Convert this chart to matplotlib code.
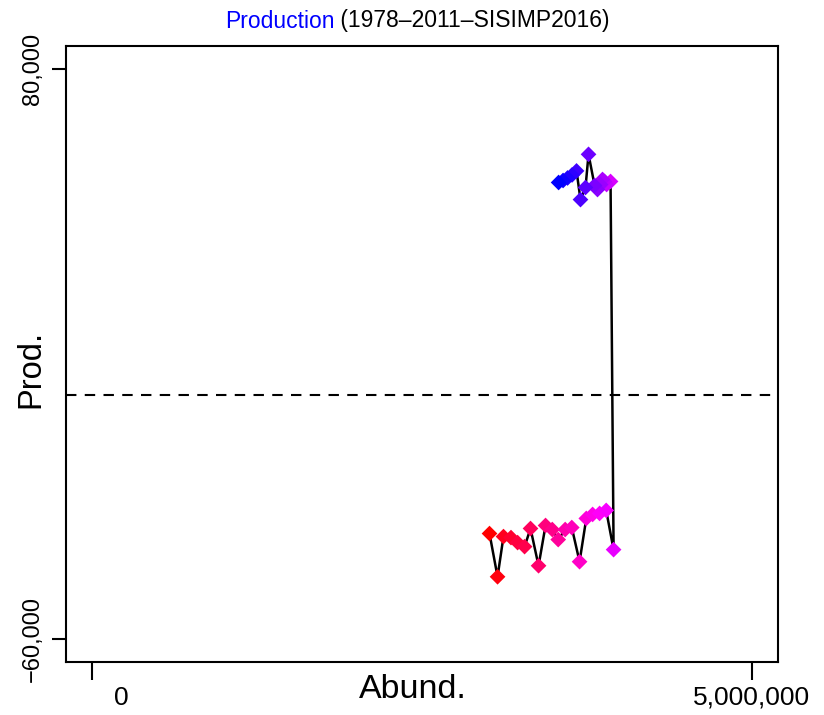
import matplotlib
matplotlib.use("Agg")
import matplotlib.pyplot as plt
import matplotlib.transforms as mtransforms
from matplotlib.colors import LinearSegmentedColormap

# abundance vs production, 1978-2011
years = list(range(1978, 2012))
abund = [3012000, 3073000, 3118000, 3175000, 3225000, 3278000, 3323000, 3384000,
         3437000, 3488000, 3533000, 3586000, 3636000, 3695000, 3746000, 3794000,
         3847000, 3897000, 3953000,
         3930000, 3900000, 3884000, 3869000, 3854000, 3831000, 3809000, 3763000,
         3740000, 3702000, 3672000, 3638000, 3604000, 3570000, 3536000]
prod = [-34070, -44680, -34810, -35060, -36290, -37280, -32830, -41970,
        -32090, -33080, -35550, -33080, -32590, -40980, -30360, -29380,
        -29130, -28390, -38020,
        52350, 51600, 52350, 52840, 51600, 50370, 51360, 59010,
        50870, 47900, 54940, 53950, 53210, 52590, 52100]
xticks = [0, 5000000]
xticklabels = ["0", "5,000,000"]
yticks = [-60000, 80000]
yticklabels = ["\u221260,000", "80,000"]

plt.rcParams['font.family'] = ['Liberation Sans', 'DejaVu Sans']

fig = plt.figure(figsize=(8.24, 7.15), dpi=100)
ax = fig.add_axes([66/824, 1-662/715, (778-66)/824, (662-46)/715])

cmap = LinearSegmentedColormap.from_list("rmb", ["#FF0000", "#FF00FF", "#0000FF"])
cols = [cmap(i/(len(years)-1)) for i in range(len(years))]

ax.axhline(0, color='black', lw=1.5, ls=(0, (5, 4)), zorder=1)
ax.plot(abund, prod, color='black', lw=1.8, zorder=2)
ax.scatter(abund, prod, c=cols, marker='D', s=64, linewidths=0, zorder=3)

ax.set_xlim(-200000, 5200000)
ax.set_ylim(-65600, 85600)

for s in ax.spines.values():
    s.set_linewidth(1.5)

ax.set_xticks(xticks)
ax.set_xticklabels(xticklabels, fontsize=19)
ax.set_yticks(yticks)
ax.set_yticklabels(yticklabels, fontsize=17, rotation=90, va='center')
ax.tick_params(axis='x', length=13, width=1.5, pad=4)
ax.tick_params(axis='y', length=10, width=1.5, pad=6)

# R puts the "0" label off to the right of its tick
lab0 = ax.get_xticklabels()[0]
lab0.set_transform(lab0.get_transform() + mtransforms.ScaledTranslation(29/100, 0, fig.dpi_scale_trans))

ax.set_xlabel("Abund.", fontsize=24.5)
ax.xaxis.label.set_va('center')
ax.xaxis.set_label_coords((413-66)/712, (662-690)/616)
ax.set_ylabel("Prod.", fontsize=23.5)
ax.yaxis.label.set_va('center')
ax.yaxis.set_label_coords((31-66)/712, 1-(369-46)/616)

# two-colour title: blue part, then black part right after it
ty = 1 - 21/715
t1 = fig.text(225/824, ty, "Production", color='#0000FF', fontsize=16.5, ha='left', va='center')
fig.canvas.draw()
bb = t1.get_window_extent()
fig.text(bb.x1 / fig.bbox.width, ty, " (1978\u20132011\u2013SISIMP2016)", color='black',
         fontsize=16.5, ha='left', va='center')

fig.savefig("out.png", dpi=100)
